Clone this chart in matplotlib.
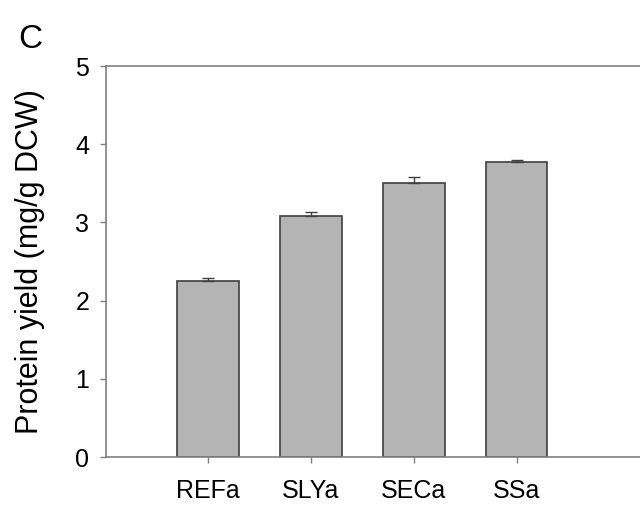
import numpy as np
import matplotlib.pyplot as plt

# 数据
strains = ['REFa', 'SLYa', 'SECa', 'SSa']
protein_yield = [2.25, 3.08, 3.50, 3.77]
yield_err = [0.04, 0.055, 0.085, 0.025]

plt.rcParams['font.family'] = ['Liberation Sans', 'DejaVu Sans']

fig = plt.figure(figsize=(6.4, 5.07), dpi=100)
ax = fig.add_axes([0.1656, 0.0986, 0.8344, 0.7712])

x = np.arange(len(strains))
ax.bar(x, protein_yield, width=0.6, color='#b4b4b4', edgecolor='#404040', linewidth=1.2)
ax.errorbar(x, protein_yield, yerr=[np.zeros(len(yield_err)), yield_err], fmt='none',
            ecolor='#404040', elinewidth=1, capsize=4, capthick=1)

ax.set_xlim(-0.99, 4.2)
ax.set_ylim(0, 5)
ax.set_xticks(x)
ax.set_xticklabels(strains)
ax.set_yticks(range(6))
ax.tick_params(axis='both', labelsize=18, color='#808080', length=4, width=1)
ax.tick_params(axis='x', pad=12)
ax.tick_params(axis='y', pad=8)
ax.spines['right'].set_visible(False)
for s in ['left', 'top', 'bottom']:
    ax.spines[s].set_color('#808080')
    ax.spines[s].set_linewidth(1.2)
ax.set_ylabel('Protein yield (mg/g DCW)', fontsize=22, labelpad=22)

fig.text(0.028, 0.905, 'C', fontsize=24)

fig.savefig('out.png', dpi=100)
